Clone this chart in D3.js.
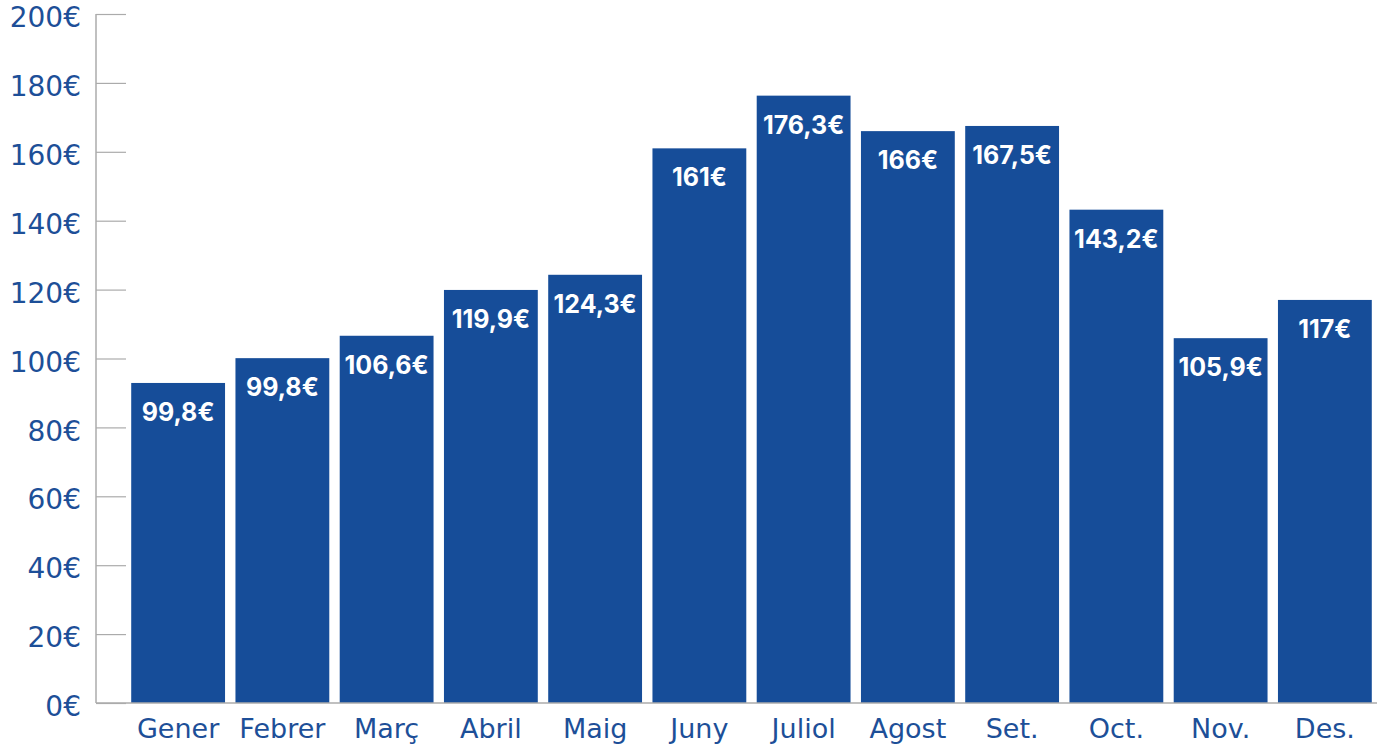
<!DOCTYPE html>
<html>
<head>
<meta charset="utf-8">
<script src="https://cdn.jsdelivr.net/npm/d3@7"></script>
<style>
  body { margin: 0; background: #fff; }
  svg { display: block; }
</style>
</head>
<body>
<svg id="chart" width="1383" height="745"></svg>
<script>
(function () {
  // data
  var months = ["Gener", "Febrer", "Març", "Abril", "Maig", "Juny", "Juliol", "Agost", "Set.", "Oct.", "Nov.", "Des."];
  var values = [92.9, 100.1, 106.6, 119.9, 124.3, 161, 176.3, 166, 167.5, 143.2, 105.9, 117];
  var labels = ["99,8€", "99,8€", "106,6€", "119,9€", "124,3€", "161€", "176,3€", "166€", "167,5€", "143,2€", "105,9€", "117€"];
  var yTicks = [0, 20, 40, 60, 80, 100, 120, 140, 160, 180, 200];

  var barColor = "#164d99",
      textColor = "#1d4f98",
      axisColor = "#ababab";

  var svg = d3.select("#chart");
  var left = 96, right = 1377, top = 14, bottom = 703;

  var x = d3.scaleBand()
      .domain(months)
      .range([126, right])
      .paddingInner(0.1)
      .paddingOuter(0.05);

  var y = d3.scaleLinear()
      .domain([0, 200])
      .range([bottom, top]);

  // bars
  svg.append("g")
     .selectAll("rect")
     .data(values)
     .enter().append("rect")
     .attr("x", function(d, i) { return x(months[i]); })
     .attr("y", function(d) { return y(d); })
     .attr("width", x.bandwidth())
     .attr("height", function(d) { return y(0) - y(d); })
     .attr("fill", barColor);

  // value labels inside bars
  svg.append("g")
     .selectAll("text")
     .data(values)
     .enter().append("text")
     .attr("x", function(d, i) { return x(months[i]) + x.bandwidth() / 2; })
     .attr("y", function(d) { return y(d) + 38; })
     .attr("text-anchor", "middle")
     .attr("fill", "#fff")
     .style("font-family", "Inter, sans-serif")
     .style("font-weight", "bold")
     .style("font-size", "25px")
     .text(function(d, i) { return labels[i]; });

  // y axis, ticks pointing into the plot
  var yAxis = svg.append("g")
     .attr("transform", "translate(" + left + ",0)")
     .call(d3.axisLeft(y)
        .tickValues(yTicks)
        .tickSize(-30)
        .tickPadding(15)
        .tickFormat(function(d) { return d + "€"; }));
  yAxis.select(".domain").attr("d", "M0," + top + "V" + bottom).attr("stroke", axisColor).attr("stroke-width", 1.5);
  yAxis.selectAll(".tick line").attr("stroke", axisColor).attr("stroke-width", 1.2);
  yAxis.selectAll(".tick text")
     .attr("fill", textColor)
     .attr("dy", "0.45em")
     .style("font-family", "'DejaVu Sans', sans-serif")
     .style("font-size", "28px");

  // x baseline + month names
  svg.append("line")
     .attr("x1", left).attr("x2", right)
     .attr("y1", y(0)).attr("y2", y(0))
     .attr("stroke", axisColor)
     .attr("stroke-width", 1.5);

  svg.append("g")
     .selectAll("text")
     .data(months)
     .enter().append("text")
     .attr("x", function(d) { return x(d) + x.bandwidth() / 2; })
     .attr("y", 738)
     .attr("text-anchor", "middle")
     .attr("fill", textColor)
     .style("font-family", "'DejaVu Sans', sans-serif")
     .style("font-size", "27px")
     .text(function(d) { return d; });
})();
</script>
</body>
</html>
